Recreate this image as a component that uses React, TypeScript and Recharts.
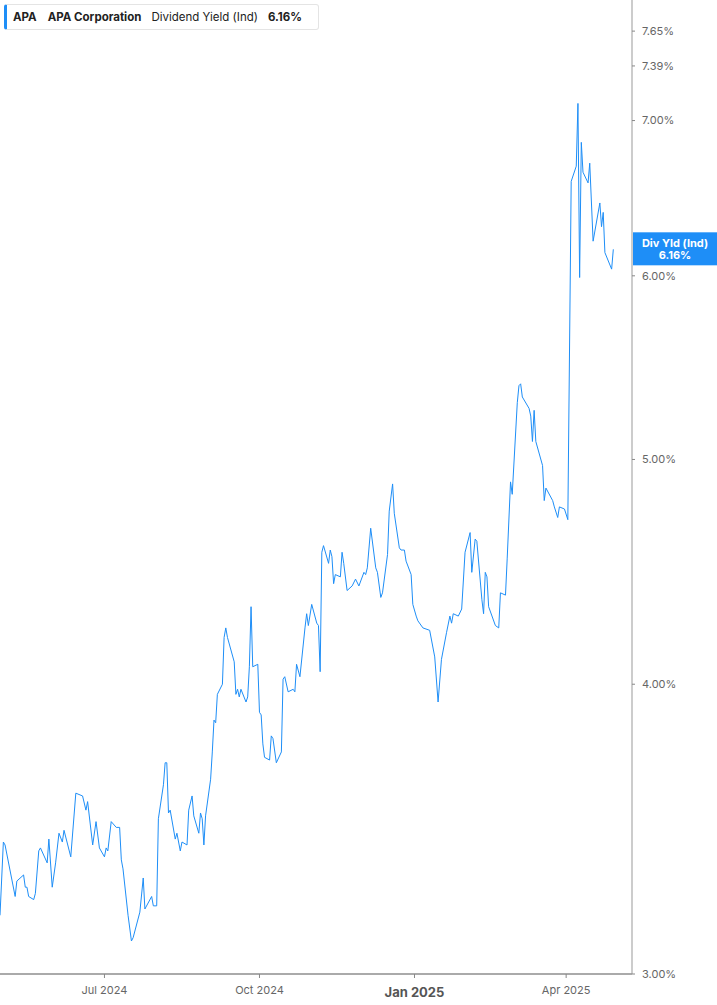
import React from 'react';
import { LineChart, Line, XAxis, YAxis, ReferenceLine } from 'recharts';

const dates = [
  '2024-04-30', '2024-05-02', '2024-05-03', '2024-05-09', '2024-05-10', '2024-05-14', '2024-05-15', '2024-05-16',
  '2024-05-17', '2024-05-20', '2024-05-21', '2024-05-23', '2024-05-24', '2024-05-28', '2024-05-29', '2024-05-31',
  '2024-06-02', '2024-06-04', '2024-06-06', '2024-06-07', '2024-06-11', '2024-06-14', '2024-06-18', '2024-06-20',
  '2024-06-21', '2024-06-24', '2024-06-26', '2024-06-28',
  '2024-07-01', '2024-07-02', '2024-07-03', '2024-07-05', '2024-07-08', '2024-07-10', '2024-07-11', '2024-07-12',
  '2024-07-15', '2024-07-17', '2024-07-18', '2024-07-22', '2024-07-24', '2024-07-25', '2024-07-29', '2024-07-30',
  '2024-08-01', '2024-08-02', '2024-08-05', '2024-08-06', '2024-08-07', '2024-08-08', '2024-08-09', '2024-08-12',
  '2024-08-13', '2024-08-15', '2024-08-16', '2024-08-19', '2024-08-20', '2024-08-22', '2024-08-23', '2024-08-26',
  '2024-08-27', '2024-08-28', '2024-08-29', '2024-08-30',
  '2024-09-02', '2024-09-03', '2024-09-04', '2024-09-05', '2024-09-06', '2024-09-09', '2024-09-10', '2024-09-11',
  '2024-09-12', '2024-09-16', '2024-09-17', '2024-09-18', '2024-09-19', '2024-09-20', '2024-09-23', '2024-09-24',
  '2024-09-25', '2024-09-26', '2024-09-27', '2024-09-30',
  '2024-10-01', '2024-10-02', '2024-10-03', '2024-10-04', '2024-10-07', '2024-10-08', '2024-10-09', '2024-10-11',
  '2024-10-14', '2024-10-15', '2024-10-16', '2024-10-18', '2024-10-21', '2024-10-22', '2024-10-23', '2024-10-25',
  '2024-10-28', '2024-10-29', '2024-10-30',
  '2024-11-01', '2024-11-04', '2024-11-05', '2024-11-06', '2024-11-07', '2024-11-08', '2024-11-11', '2024-11-12',
  '2024-11-13', '2024-11-14', '2024-11-15', '2024-11-18', '2024-11-19', '2024-11-20', '2024-11-22', '2024-11-25',
  '2024-11-27', '2024-11-29',
  '2024-12-02', '2024-12-03', '2024-12-04', '2024-12-06', '2024-12-09', '2024-12-10', '2024-12-12', '2024-12-13',
  '2024-12-16', '2024-12-17', '2024-12-19', '2024-12-20', '2024-12-23', '2024-12-24', '2024-12-26', '2024-12-27',
  '2024-12-30', '2024-12-31',
  '2025-01-02', '2025-01-03', '2025-01-06', '2025-01-10', '2025-01-13', '2025-01-15', '2025-01-17', '2025-01-20',
  '2025-01-22', '2025-01-23', '2025-01-24', '2025-01-27', '2025-01-29', '2025-01-31',
  '2025-02-03', '2025-02-04', '2025-02-06', '2025-02-07', '2025-02-10', '2025-02-11', '2025-02-12', '2025-02-13',
  '2025-02-14', '2025-02-18', '2025-02-20', '2025-02-21', '2025-02-24', '2025-02-25', '2025-02-27', '2025-02-28',
  '2025-03-03', '2025-03-04', '2025-03-05', '2025-03-06', '2025-03-10', '2025-03-11', '2025-03-12', '2025-03-13',
  '2025-03-14', '2025-03-18', '2025-03-19', '2025-03-20', '2025-03-24', '2025-03-25', '2025-03-27', '2025-03-28',
  '2025-03-31',
  '2025-04-02', '2025-04-04', '2025-04-07', '2025-04-08', '2025-04-09', '2025-04-10', '2025-04-11', '2025-04-14',
  '2025-04-15', '2025-04-17', '2025-04-21', '2025-04-22', '2025-04-23', '2025-04-24', '2025-04-28', '2025-04-29',
];

// dividend yield (ind), %
const yields = [
  3.18, 3.42, 3.41, 3.24, 3.29, 3.31, 3.27, 3.27,
  3.24, 3.23, 3.25, 3.39, 3.40, 3.35, 3.43, 3.27,
  3.35, 3.45, 3.42, 3.46, 3.37, 3.59, 3.58, 3.53,
  3.56, 3.41, 3.49, 3.40,
  3.37, 3.40, 3.39, 3.49, 3.47, 3.47, 3.36, 3.33,
  3.18, 3.10, 3.11, 3.19, 3.30, 3.20, 3.24, 3.21,
  3.21, 3.50, 3.62, 3.70, 3.70, 3.52, 3.53, 3.43,
  3.45, 3.39, 3.42, 3.41, 3.53, 3.58, 3.51, 3.45,
  3.52, 3.50, 3.41, 3.51,
  3.64, 3.74, 3.86, 3.85, 3.96, 4.00, 4.19, 4.23,
  4.19, 4.09, 3.96, 3.98, 3.95, 3.98, 3.93, 3.95,
  4.07, 4.32, 4.07, 4.08,
  3.89, 3.88, 3.77, 3.72, 3.71, 3.80, 3.79, 3.70,
  3.74, 4.02, 4.03, 3.97, 3.98, 3.97, 4.08, 4.03,
  4.23, 4.29, 4.24,
  4.33, 4.25, 4.24, 4.05, 4.56, 4.59, 4.51, 4.57,
  4.54, 4.42, 4.46, 4.45, 4.56, 4.51, 4.39, 4.41,
  4.44, 4.41,
  4.47, 4.46, 4.49, 4.67, 4.49, 4.47, 4.36, 4.38,
  4.55, 4.75, 4.88, 4.74, 4.58, 4.57, 4.57, 4.52,
  4.46, 4.33,
  4.28, 4.26, 4.23, 4.22, 4.11, 3.93, 4.10, 4.21,
  4.28, 4.25, 4.29, 4.28, 4.31, 4.56,
  4.65, 4.47, 4.62, 4.61, 4.35, 4.29, 4.47, 4.45,
  4.32, 4.24, 4.23, 4.38, 4.37, 4.53, 4.89, 4.83,
  5.29, 5.38, 5.39, 5.32, 5.26, 5.22, 5.09, 5.25,
  5.09, 4.97, 4.80, 4.86, 4.80, 4.77, 4.72, 4.77,
  4.76,
  4.71, 6.59, 6.69, 7.12, 5.99, 6.85, 6.65, 6.58,
  6.71, 6.21, 6.45, 6.30, 6.39, 6.14, 6.04, 6.16,
];

const xTickDates = ['2024-07-01', '2024-10-01', '2025-01-01', '2025-04-01'];
const xTickLabels = ['Jul 2024', 'Oct 2024', 'Jan 2025', 'Apr 2025'];
const yTicks = [3, 4, 5, 6, 7, 7.39, 7.65];

const ticker = 'APA';
const company = 'APA Corporation';
const metric = 'Dividend Yield (Ind)';
const shortMetric = 'Div Yld (Ind)';

const BLUE = '#1e8ef7';
const FONT = 'Inter, "Noto Sans", sans-serif';

const data = dates.map((d, i) => ({ t: Date.parse(d), v: yields[i] }));
const last = yields[yields.length - 1];
const xDomain = [Date.parse('2024-04-30'), Date.parse('2025-05-10T02:00:00Z')];

function XTick(props: any) {
  const { x, y, payload } = props;
  const idx = xTickDates.findIndex((d) => Date.parse(d) === payload.value);
  const label = xTickLabels[idx] ?? '';
  const yearStart = label.startsWith('Jan');
  return (
    <text
      x={x}
      y={y}
      dy={yearStart ? 17 : 14}
      textAnchor="middle"
      fill={yearStart ? '#555' : '#666'}
      fontSize={yearStart ? 13 : 11}
      fontWeight={yearStart ? 700 : 400}
      fontFamily={FONT}
    >
      {label}
    </text>
  );
}

function PriceTag(props: any) {
  const vb = props.viewBox || {};
  const x = vb.x + vb.width + 1;
  const y = vb.y;
  return (
    <g>
      <rect x={x} y={y - 17} width={84} height={33} fill={BLUE} />
      <text x={x + 42} y={y - 2} textAnchor="middle" fill="#fff" fontSize={11} fontWeight={700} fontFamily={FONT}>
        {shortMetric}
      </text>
      <text x={x + 42} y={y + 10} textAnchor="middle" fill="#fff" fontSize={11} fontWeight={700} fontFamily={FONT}>
        {last.toFixed(2)}%
      </text>
    </g>
  );
}

export default function App() {
  return (
    <div style={{ position: 'absolute', left: 0, top: 0, width: 717, height: 1005, background: '#fff' }}>
      <LineChart
        width={717}
        height={1005}
        data={data}
        margin={{ top: 0, right: 0, left: 0, bottom: 0 }}
        style={{ fontFamily: FONT }}
      >
        <XAxis
          dataKey="t"
          type="number"
          domain={xDomain}
          allowDataOverflow
          ticks={xTickDates.map((d) => Date.parse(d))}
          interval={0}
          tick={<XTick />}
          height={31}
          tickSize={4}
          axisLine={{ stroke: '#aaa', strokeWidth: 2 }}
          tickLine={{ stroke: '#888' }}
        />
        <YAxis
          orientation="right"
          scale="log"
          domain={[3, 7.89]}
          allowDataOverflow
          ticks={yTicks}
          interval={0}
          width={85}
          tickSize={3}
          tickMargin={7}
          tickFormatter={(v: number) => `${v.toFixed(2)}%`}
          tick={{ fill: '#666', fontSize: 11, fontFamily: FONT }}
          axisLine={{ stroke: '#999' }}
          tickLine={{ stroke: '#888' }}
        />
        <Line
          type="linear"
          dataKey="v"
          stroke={BLUE}
          strokeWidth={1}
          dot={false}
          activeDot={false}
          isAnimationActive={false}
        />
        <ReferenceLine y={last} stroke="none" ifOverflow="visible" label={<PriceTag />} />
      </LineChart>
      <div
        style={{
          position: 'absolute',
          left: 4,
          top: 4,
          width: 311,
          height: 24,
          border: '1px solid #e4e4e4',
          borderLeft: `3px solid ${BLUE}`,
          borderRadius: 3,
          background: '#fff',
          display: 'flex',
          alignItems: 'center',
          fontFamily: FONT,
          fontSize: 11.5,
          color: '#222',
          whiteSpace: 'nowrap',
        }}
      >
        <span style={{ fontWeight: 700, marginLeft: 6 }}>{ticker}</span>
        <span style={{ fontWeight: 700, marginLeft: 11 }}>{company}</span>
        <span style={{ marginLeft: 10 }}>{metric}</span>
        <span style={{ fontWeight: 700, marginLeft: 10 }}>{last.toFixed(2)}%</span>
      </div>
    </div>
  );
}
